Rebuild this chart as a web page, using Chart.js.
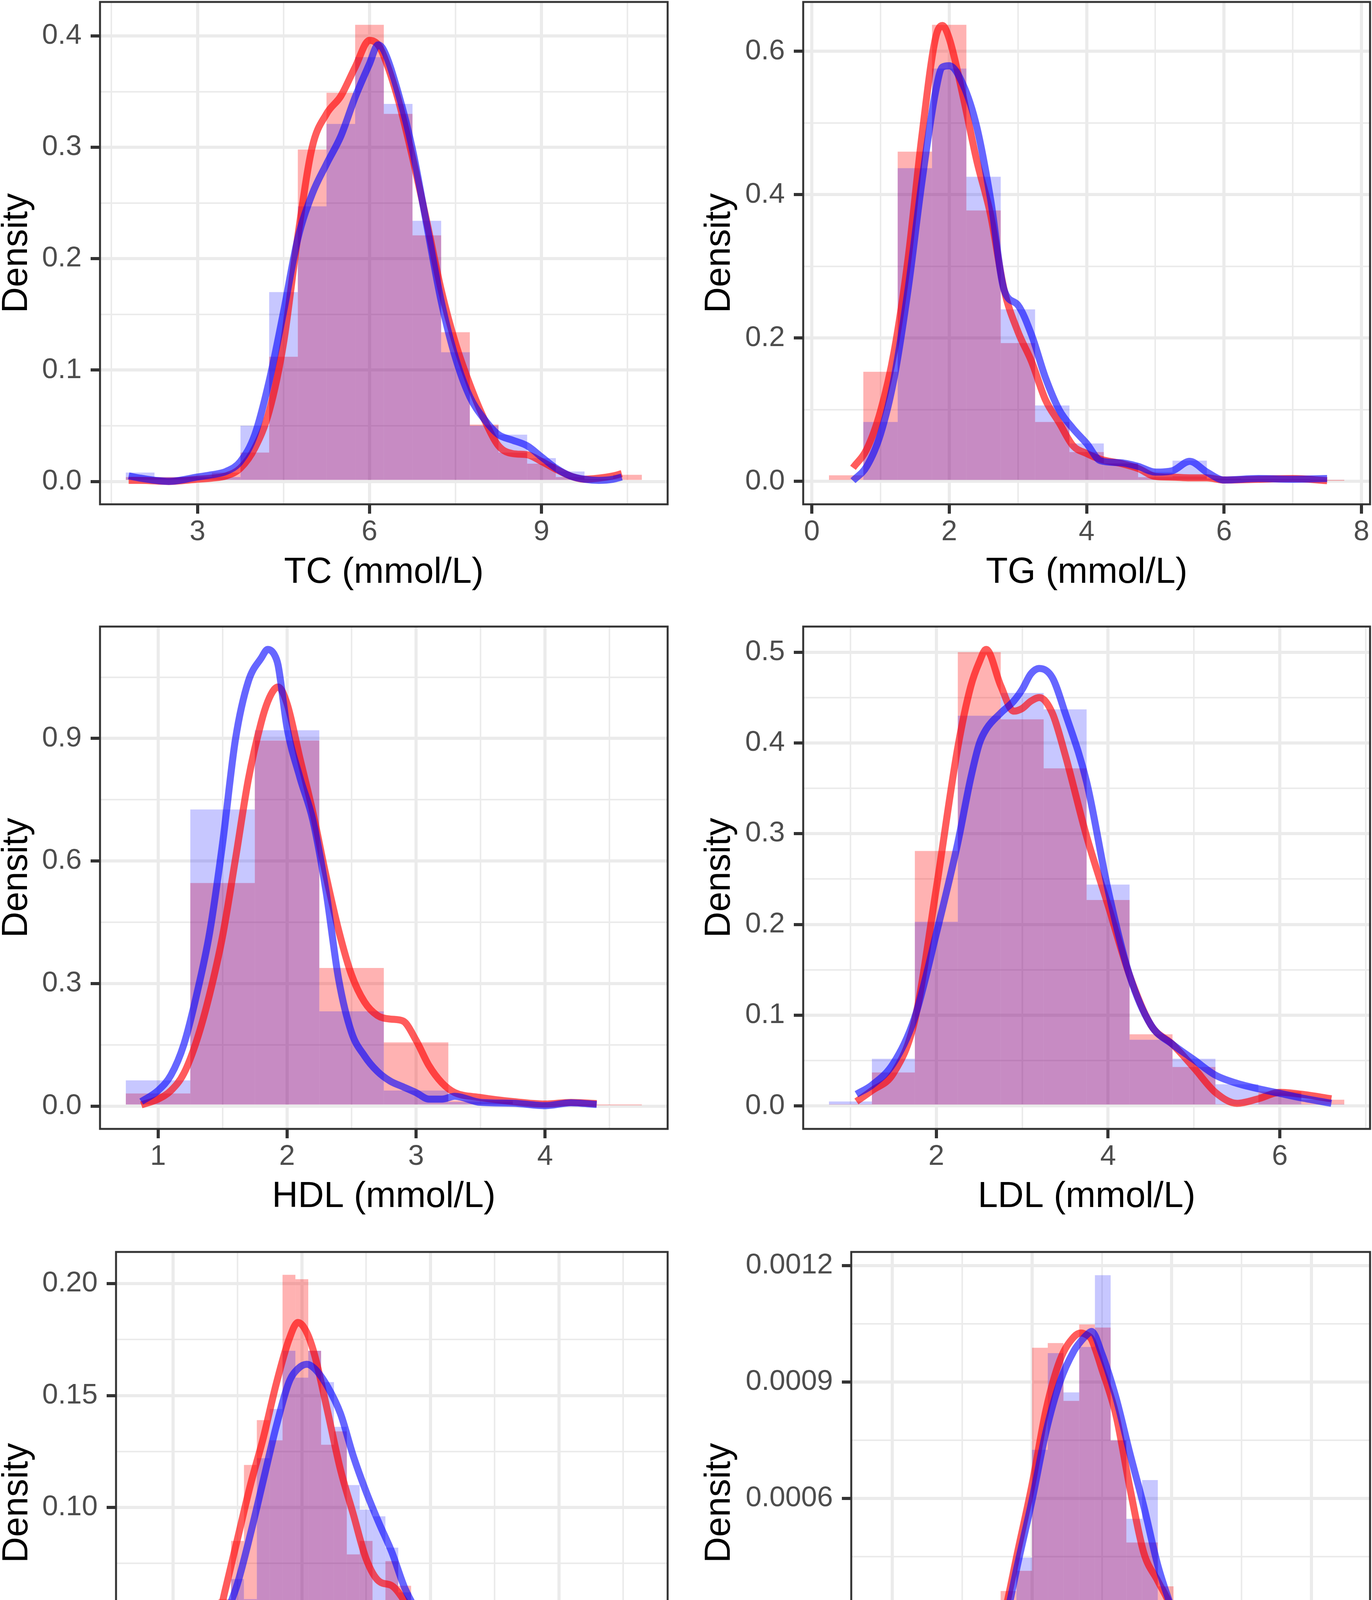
<!DOCTYPE html>
<html>
<head>
<meta charset="utf-8">
<title>Density histograms</title>
<script src="https://cdn.jsdelivr.net/npm/chart.js@4.4.0/dist/chart.umd.min.js"></script>
<style>
  html, body { margin: 0; padding: 0; background: #fff; }
  body { width: 3512px; height: 4712px; position: relative; overflow: hidden; }
  canvas { position: absolute; }
</style>
</head>
<body>
<canvas id="tc"></canvas>
<canvas id="tg"></canvas>
<canvas id="hdl"></canvas>
<canvas id="ldl"></canvas>
<canvas id="bmi"></canvas>
<canvas id="bw"></canvas>
<script>
// ---- TC ----
const tcBins = [2.0, 2.5, 3.0, 3.5, 4.0, 4.5, 5.0, 5.5, 6.0, 6.5, 7.0, 7.5, 8.0, 8.5, 9.0, 9.5, 10.0, 10.5];
const tcRedHist = [0.004, 0.004, 0.004, 0.008, 0.026, 0.112, 0.298, 0.349, 0.410, 0.330, 0.221, 0.134, 0.051, 0.026, 0.016, 0.004, 0.002, 0.006];
const tcBlueHist = [0.008, 0.004, 0.004, 0.004, 0.050, 0.170, 0.247, 0.321, 0.381, 0.339, 0.234, 0.116, 0.050, 0.042, 0.021, 0.009, 0.002, 0.000];
const tcDensX = [1.8, 2.0, 2.5, 3.0, 3.25, 3.5, 3.75, 4.0, 4.25, 4.5, 4.75, 5.0, 5.25, 5.5, 5.75, 6.0, 6.15, 6.25, 6.5, 6.75, 7.0, 7.25, 7.5, 7.75, 8.0, 8.25, 8.5, 8.75, 9.0, 9.25, 9.5, 9.75, 10.0, 10.25, 10.4];
const tcRedDens = [0.001, 0.001, 0.000, 0.002, 0.003, 0.005, 0.012, 0.030, 0.063, 0.124, 0.220, 0.300, 0.330, 0.346, 0.372, 0.396, 0.392, 0.382, 0.343, 0.291, 0.233, 0.172, 0.124, 0.087, 0.056, 0.032, 0.025, 0.024, 0.018, 0.011, 0.005, 0.002, 0.003, 0.005, 0.007];
const tcBlueDens = [0.005, 0.003, 0.000, 0.004, 0.006, 0.009, 0.018, 0.042, 0.090, 0.152, 0.218, 0.258, 0.285, 0.310, 0.345, 0.375, 0.392, 0.387, 0.349, 0.298, 0.230, 0.162, 0.111, 0.076, 0.056, 0.042, 0.037, 0.032, 0.022, 0.012, 0.005, 0.002, 0.001, 0.002, 0.004];
const tcXTicks = [3, 6, 9], tcXMinor = [1.5, 4.5, 7.5, 10.5];
const tcYTicks = [0, 0.1, 0.2, 0.3, 0.4], tcYMinor = [0.05, 0.15, 0.25, 0.35];

// ---- TG ----
const tgBins = [0.5, 1.0, 1.5, 2.0, 2.5, 3.0, 3.5, 4.0, 4.5, 5.0, 5.5, 6.0, 6.5, 7.0, 7.5];
const tgRedHist = [0.0085, 0.153, 0.460, 0.637, 0.378, 0.193, 0.083, 0.041, 0.025, 0.006, 0.007, 0.004, 0.003, 0.003, 0.001];
const tgBlueHist = [0.000, 0.083, 0.437, 0.576, 0.425, 0.240, 0.106, 0.053, 0.025, 0.013, 0.029, 0.003, 0.003, 0.003, 0.002];
const tgDensX = [0.6, 0.8, 1.0, 1.2, 1.4, 1.6, 1.8, 1.9, 2.0, 2.2, 2.4, 2.6, 2.8, 3.0, 3.2, 3.4, 3.6, 3.8, 4.0, 4.2, 4.5, 4.75, 5.0, 5.25, 5.5, 5.75, 6.0, 6.5, 7.0, 7.5];
const tgRedDens = [0.019, 0.045, 0.098, 0.182, 0.310, 0.480, 0.618, 0.636, 0.618, 0.538, 0.448, 0.373, 0.267, 0.209, 0.167, 0.114, 0.082, 0.050, 0.039, 0.031, 0.025, 0.018, 0.007, 0.006, 0.005, 0.005, 0.002, 0.003, 0.004, 0.001];
const tgBlueDens = [0.001, 0.021, 0.066, 0.145, 0.267, 0.416, 0.543, 0.578, 0.580, 0.554, 0.495, 0.395, 0.267, 0.246, 0.204, 0.145, 0.100, 0.074, 0.053, 0.029, 0.026, 0.021, 0.013, 0.015, 0.028, 0.013, 0.002, 0.004, 0.003, 0.004];
const tgXTicks = [0, 2, 4, 6, 8], tgXMinor = [1, 3, 5, 7];
const tgYTicks = [0, 0.2, 0.4, 0.6], tgYMinor = [0.1, 0.3, 0.5];

// ---- HDL ----
const hdlBins = [1.0, 1.5, 2.0, 2.5, 3.0, 3.5, 4.0, 4.5];
const hdlRedHist = [0.031, 0.546, 0.895, 0.338, 0.156, 0.014, 0.005, 0.002];
const hdlBlueHist = [0.063, 0.726, 0.920, 0.232, 0.038, 0.010, 0.004, 0.000];
const hdlDensX = [0.87, 1.0, 1.1, 1.2, 1.3, 1.4, 1.5, 1.6, 1.7, 1.8, 1.85, 1.9, 1.93, 2.0, 2.1, 2.2, 2.3, 2.4, 2.5, 2.6, 2.7, 2.8, 2.9, 3.0, 3.1, 3.2, 3.3, 3.5, 3.75, 4.0, 4.2, 4.4];
const hdlRedDens = [0.003, 0.017, 0.038, 0.080, 0.161, 0.274, 0.416, 0.605, 0.800, 0.940, 0.990, 1.020, 1.026, 0.985, 0.851, 0.719, 0.567, 0.430, 0.321, 0.255, 0.222, 0.213, 0.208, 0.161, 0.099, 0.057, 0.033, 0.021, 0.011, 0.005, 0.009, 0.006];
const hdlBlueDens = [0.011, 0.038, 0.076, 0.151, 0.274, 0.425, 0.643, 0.898, 1.040, 1.097, 1.118, 1.106, 1.080, 0.926, 0.804, 0.700, 0.530, 0.310, 0.180, 0.123, 0.085, 0.061, 0.047, 0.033, 0.017, 0.017, 0.024, 0.009, 0.007, 0.001, 0.008, 0.004];
const hdlXTicks = [1, 2, 3, 4], hdlXMinor = [1.5, 2.5, 3.5, 4.5];
const hdlYTicks = [0, 0.3, 0.6, 0.9], hdlYMinor = [0.15, 0.45, 0.75, 1.05];

// ---- LDL ----
const ldlBins = [1.0, 1.5, 2.0, 2.5, 3.0, 3.5, 4.0, 4.5, 5.0, 5.5, 6.0, 6.5];
const ldlRedHist = [0.002, 0.037, 0.281, 0.500, 0.426, 0.372, 0.227, 0.079, 0.043, 0.002, 0.016, 0.007];
const ldlBlueHist = [0.005, 0.052, 0.203, 0.430, 0.455, 0.437, 0.244, 0.073, 0.052, 0.024, 0.014, 0.002];
const ldlDensX = [1.07, 1.25, 1.5, 1.75, 2.0, 2.25, 2.4, 2.5, 2.58, 2.75, 2.9, 3.0, 3.1, 3.2, 3.35, 3.5, 3.75, 4.0, 4.25, 4.5, 4.75, 5.0, 5.25, 5.5, 5.75, 6.0, 6.25, 6.6];
const ldlRedDens = [0.005, 0.017, 0.036, 0.095, 0.240, 0.395, 0.462, 0.489, 0.503, 0.463, 0.435, 0.438, 0.446, 0.450, 0.433, 0.387, 0.297, 0.221, 0.144, 0.089, 0.068, 0.042, 0.015, 0.003, 0.008, 0.015, 0.013, 0.008];
const ldlBlueDens = [0.013, 0.023, 0.047, 0.098, 0.190, 0.290, 0.361, 0.399, 0.415, 0.433, 0.446, 0.459, 0.476, 0.482, 0.472, 0.433, 0.357, 0.238, 0.144, 0.089, 0.068, 0.051, 0.034, 0.025, 0.019, 0.014, 0.009, 0.003];
const ldlXTicks = [2, 4, 6], ldlXMinor = [1, 3, 5, 7];
const ldlYTicks = [0, 0.1, 0.2, 0.3, 0.4, 0.5], ldlYMinor = [0.05, 0.15, 0.25, 0.35, 0.45];

// ---- BMI ----
const bmiBins = [14.0, 14.5, 15.0, 15.5, 16.0, 16.5, 17.0, 17.5, 18.0, 18.5, 19.0, 19.5, 20.0, 20.5, 21.0, 21.5, 22.0, 22.5, 23.0, 23.5,
                 24.0, 24.5, 25.0, 25.5, 26.0, 26.5, 27.0, 27.5, 28.0, 28.5, 29.0, 29.5, 30.0, 30.5, 31.0, 31.5, 32.0, 32.5, 33.0];
const bmiRedHist = [0.002, 0.002, 0.011, 0.011, 0.026, 0.031, 0.059, 0.085, 0.119, 0.139, 0.130, 0.204, 0.202, 0.170, 0.128, 0.134, 0.079, 0.085, 0.057, 0.076,
                    0.065, 0.042, 0.031, 0.034, 0.014, 0.019, 0.016, 0.008, 0.008, 0.004, 0.004, 0.002, 0.002, 0.001, 0.001, 0.001, 0.002, 0.001, 0.000];
const bmiBlueHist = [0.000, 0.002, 0.006, 0.008, 0.028, 0.023, 0.053, 0.068, 0.059, 0.122, 0.144, 0.170, 0.158, 0.170, 0.156, 0.136, 0.110, 0.099, 0.096, 0.082,
                     0.062, 0.048, 0.045, 0.036, 0.022, 0.022, 0.014, 0.012, 0.009, 0.008, 0.008, 0.004, 0.002, 0.001, 0.001, 0.001, 0.001, 0.001, 0.002];
const bmiDensX = [14.2, 14.5, 15, 15.5, 16, 16.5, 17, 17.5, 18, 18.5, 19, 19.5, 19.85, 20.2, 20.5, 21, 21.5, 22, 22.5, 23,
                  23.5, 24, 24.5, 25, 25.5, 26, 26.5, 27, 27.5, 28, 28.5, 29, 29.5, 30, 31, 32, 32.8];
const bmiRedDens = [0.0035, 0.0049, 0.0083, 0.0136, 0.0222, 0.037, 0.062, 0.086, 0.110, 0.131, 0.155, 0.175, 0.1827, 0.178, 0.168, 0.143, 0.117, 0.097, 0.077, 0.067,
                    0.065, 0.058, 0.048, 0.039, 0.031, 0.022, 0.017, 0.0136, 0.0097, 0.0063, 0.0045, 0.0035, 0.0023, 0.0014, 0.0007, 0.0005, 0.0002];
const bmiBlueDens = [0.0009, 0.0023, 0.0045, 0.0101, 0.0188, 0.031, 0.050, 0.066, 0.088, 0.112, 0.136, 0.156, 0.162, 0.164, 0.162, 0.154, 0.142, 0.123, 0.107, 0.093,
                     0.080, 0.064, 0.053, 0.043, 0.034, 0.026, 0.019, 0.0144, 0.0115, 0.0097, 0.0083, 0.0066, 0.004, 0.0023, 0.001, 0.0007, 0.0007];
const bmiXTicks = [15, 20, 25, 30], bmiXMinor = [17.5, 22.5, 27.5, 32.5];
const bmiYTicks = [0, 0.05, 0.10, 0.15, 0.20], bmiYMinor = [0.025, 0.075, 0.125, 0.175];

// ---- Birthweight ----
const bwBins = [1931.25, 2043.75, 2156.25, 2268.75, 2381.25, 2493.75, 2606.25, 2718.75, 2831.25, 2943.75,
                3056.25, 3168.75, 3281.25, 3393.75, 3506.25, 3618.75, 3731.25, 3843.75, 3956.25, 4068.75,
                4181.25, 4293.75, 4406.25, 4518.75, 4631.25, 4743.75, 4856.25, 4968.75, 5081.25, 5193.75];
const bwRedHist = [0.000008, 0.000008, 0.000008, 0.000048, 0.000040, 0.000048, 0.000108, 0.000184, 0.000361, 0.000413,
                   0.000988, 0.001000, 0.000851, 0.001048, 0.001040, 0.000749, 0.000486, 0.000486, 0.000373, 0.000223,
                   0.000171, 0.000048, 0.000050, 0.000020, 0.000008, 0.000008, 0.000010, 0.000008, 0.000008, 0.000010];
const bwBlueHist = [0.000000, 0.000000, 0.000004, 0.000018, 0.000048, 0.000063, 0.000083, 0.000135, 0.000335, 0.000447,
                    0.000725, 0.000974, 0.000873, 0.000990, 0.001175, 0.000749, 0.000547, 0.000647, 0.000247, 0.000296,
                    0.000160, 0.000132, 0.000040, 0.000040, 0.000033, 0.000033, 0.000010, 0.000004, 0.000004, 0.000000];
const bwDensX = [1880, 2000, 2100, 2200, 2300, 2400, 2500, 2600, 2700, 2800, 2900, 3000, 3100, 3200, 3300, 3350, 3400, 3425, 3500, 3600,
                 3700, 3800, 3900, 4000, 4100, 4200, 4300, 4400, 4500, 4600, 4700, 4800, 4900, 5000, 5150];
const bwRedDens = [0.000009, 0.000011, 0.000014, 0.000026, 0.000043, 0.000060, 0.000083, 0.000118, 0.000178, 0.000298,
                   0.000467, 0.000635, 0.000828, 0.000956, 0.001016, 0.001026, 0.001019, 0.001010, 0.000932, 0.000815,
                   0.000627, 0.000459, 0.000387, 0.000315, 0.000198, 0.000128, 0.000073, 0.000043, 0.000028, 0.000016,
                   0.000010, 0.000006, 0.000008, 0.000008, 0.000006];
const bwBlueDens = [0.000000, 0.000000, 0.000000, 0.000008, 0.000028, 0.000048, 0.000068, 0.000103, 0.000158, 0.000268,
                    0.000435, 0.000595, 0.000772, 0.000900, 0.000980, 0.001005, 0.001024, 0.001030, 0.000972, 0.000860,
                    0.000716, 0.000579, 0.000427, 0.000315, 0.000208, 0.000138, 0.000088, 0.000053, 0.000043, 0.000038,
                    0.000033, 0.000023, 0.000010, 0.000003, 0.000000];
const bwXTicks = [2000, 3000, 4000, 5000], bwXMinor = [2500, 3500, 4500];
const bwYTicks = [0, 0.0003, 0.0006, 0.0009, 0.0012], bwYMinor = [0.00015, 0.00045, 0.00075, 0.00105];

// ---- look ----
const FONT = "'Liberation Sans', Arial, Helvetica, sans-serif";
const RED_FILL = 'rgba(255, 0, 0, 0.30)';
const BLUE_FILL = 'rgba(0, 0, 255, 0.22)';
const RED_LINE = 'rgba(255, 0, 0, 0.64)';
const BLUE_LINE = 'rgba(0, 0, 255, 0.60)';
const CELL_W = 1756, CELL_H = 1514;

// box = [left, top, right, bottom] of the panel inside its cell
const panels = [
  { id: 'tc', xTitle: 'TC (mmol/L)', cell: [0, 0], box: [256, 5, 1709, 1291], yTitleX: 38,
    xRange: [1.3, 11.2], xTicks: tcXTicks, xMinor: tcXMinor, yRange: [-0.0205, 0.4305], yTicks: tcYTicks, yMinor: tcYMinor, yDec: 1,
    bins: tcBins, redHist: tcRedHist, blueHist: tcBlueHist, densX: tcDensX, redDens: tcRedDens, blueDens: tcBlueDens },
  { id: 'tg', xTitle: 'TG (mmol/L)', cell: [1756, 0], box: [300, 5, 1751, 1291], yTitleX: 81,
    xRange: [-0.125, 8.125], xTicks: tgXTicks, xMinor: tgXMinor, yRange: [-0.0319, 0.6689], yTicks: tgYTicks, yMinor: tgYMinor, yDec: 1,
    bins: tgBins, redHist: tgRedHist, blueHist: tgBlueHist, densX: tgDensX, redDens: tgRedDens, blueDens: tgBlueDens },
  { id: 'hdl', xTitle: 'HDL (mmol/L)', cell: [0, 1598], box: [256, 6, 1709, 1292], yTitleX: 38,
    xRange: [0.55, 4.95], xTicks: hdlXTicks, xMinor: hdlXMinor, yRange: [-0.0559, 1.1739], yTicks: hdlYTicks, yMinor: hdlYMinor, yDec: 1,
    bins: hdlBins, redHist: hdlRedHist, blueHist: hdlBlueHist, densX: hdlDensX, redDens: hdlRedDens, blueDens: hdlBlueDens },
  { id: 'ldl', xTitle: 'LDL (mmol/L)', cell: [1756, 1598], box: [300, 6, 1751, 1292], yTitleX: 81,
    xRange: [0.45, 7.05], xTicks: ldlXTicks, xMinor: ldlXMinor, yRange: [-0.0252, 0.5282], yTicks: ldlYTicks, yMinor: ldlYMinor, yDec: 1,
    bins: ldlBins, redHist: ldlRedHist, blueHist: ldlBlueHist, densX: ldlDensX, redDens: ldlRedDens, blueDens: ldlBlueDens },
  { id: 'bmi', xTitle: 'BMI (Kg/m^2)', cell: [0, 3198], box: [297, 7, 1709, 1292], yTitleX: 39,
    xRange: [12.775, 34.225], xTicks: bmiXTicks, xMinor: bmiXMinor, yRange: [-0.0102, 0.2142], yTicks: bmiYTicks, yMinor: bmiYMinor, yDec: 2,
    bins: bmiBins, redHist: bmiRedHist, blueHist: bmiBlueHist, densX: bmiDensX, redDens: bmiRedDens, blueDens: bmiBlueDens },
  { id: 'bw', xTitle: 'Birthweight (g)', cell: [1756, 3198], box: [423, 7, 1751, 1292], yTitleX: 81,
    xRange: [1706.25, 5418.75], xTicks: bwXTicks, xMinor: bwXMinor, yRange: [-0.0000588, 0.0012348], yTicks: bwYTicks, yMinor: bwYMinor, yDec: 4,
    bins: bwBins, redHist: bwRedHist, blueHist: bwBlueHist, densX: bwDensX, redDens: bwRedDens, blueDens: bwBlueDens }
];

// panel border drawn over the data, like ggplot's panel.border
const panelBorder = {
  id: 'panelBorder',
  afterDatasetsDraw(chart) {
    const { ctx, chartArea: a } = chart;
    ctx.save();
    ctx.strokeStyle = '#333333';
    ctx.lineWidth = 5;
    ctx.strokeRect(a.left, a.top, a.right - a.left, a.bottom - a.top);
    ctx.restore();
  }
};

const toPoints = (xs, ys) => xs.map((x, i) => ({ x: x, y: ys[i] }));

function tickList(major, minor) {
  return major.map(v => ({ value: v, minor: false }))
    .concat(minor.map(v => ({ value: v, minor: true })))
    .sort((a, b) => a.value - b.value);
}

function gridOpts() {
  return {
    color: '#EBEBEB',
    lineWidth: c => (c.tick && c.tick.minor) ? 4 : 8,
    offset: false,
    drawTicks: true,
    tickLength: 24,
    tickWidth: 8,
    tickColor: c => (c.tick && c.tick.minor) ? 'rgba(0,0,0,0)' : '#333333'
  };
}

// no label overhang padding: the panel box is placed by hand
function noPad(s) {
  s.paddingLeft = 0; s.paddingRight = 0; s.paddingTop = 0; s.paddingBottom = 0;
}

function makeChart(p) {
  const cv = document.getElementById(p.id);
  cv.width = CELL_W;
  cv.height = CELL_H;
  cv.style.left = p.cell[0] + 'px';
  cv.style.top = p.cell[1] + 'px';
  const [L, T, R, B] = p.box;

  // inflateAmount 0 keeps neighbouring bins from overlapping into darker seams
  const barStyle = { type: 'bar', borderWidth: 0, inflateAmount: 0, grouped: false, barPercentage: 1, categoryPercentage: 1 };
  const lineStyle = { type: 'line', borderWidth: 18, pointRadius: 0, fill: false,
                      cubicInterpolationMode: 'monotone', borderCapStyle: 'butt', borderJoinStyle: 'round' };

  new Chart(cv, {
    type: 'bar',
    data: {
      datasets: [
        Object.assign({}, barStyle, { data: toPoints(p.bins, p.redHist), backgroundColor: RED_FILL, order: 3 }),
        Object.assign({}, barStyle, { data: toPoints(p.bins, p.blueHist), backgroundColor: BLUE_FILL, order: 2 }),
        Object.assign({}, lineStyle, { data: toPoints(p.densX, p.redDens), borderColor: RED_LINE, order: 1 }),
        Object.assign({}, lineStyle, { data: toPoints(p.densX, p.blueDens), borderColor: BLUE_LINE, order: 0 })
      ]
    },
    options: {
      responsive: false,
      animation: false,
      devicePixelRatio: 1,
      layout: { autoPadding: false, padding: { left: 0, top: T, right: CELL_W - R, bottom: 0 } },
      plugins: { legend: { display: false }, tooltip: { enabled: false } },
      scales: {
        x: {
          type: 'linear', position: 'bottom',
          min: p.xRange[0], max: p.xRange[1], offset: false,
          grid: gridOpts(),
          border: { display: false },
          ticks: {
            autoSkip: false, maxRotation: 0, minRotation: 0,
            color: '#4D4D4D', font: { family: FONT, size: 73 }, padding: 4,
            callback: (v, i, ticks) => ticks[i].minor ? '' : String(v)
          },
          title: { display: true, text: p.xTitle, color: '#000000',
                   font: { family: FONT, size: 92 }, padding: { top: 0, bottom: -8 } },
          afterBuildTicks: s => { s.ticks = tickList(p.xTicks, p.xMinor); },
          afterFit: s => { s.height = CELL_H - B; noPad(s); }
        },
        y: {
          type: 'linear', position: 'left',
          min: p.yRange[0], max: p.yRange[1],
          grid: gridOpts(),
          border: { display: false },
          ticks: {
            autoSkip: false,
            color: '#4D4D4D', font: { family: FONT, size: 73 }, padding: 23,
            callback: (v, i, ticks) => ticks[i].minor ? '' : v.toFixed(p.yDec)
          },
          title: { display: true, text: 'Density', color: '#000000',
                   font: { family: FONT, size: 92 }, padding: { top: p.yTitleX + 5 - 55, bottom: 0 } },
          afterBuildTicks: s => { s.ticks = tickList(p.yTicks, p.yMinor); },
          afterFit: s => { s.width = L; noPad(s); }
        }
      }
    },
    plugins: [panelBorder]
  });
}

panels.forEach(makeChart);
</script>
</body>
</html>
